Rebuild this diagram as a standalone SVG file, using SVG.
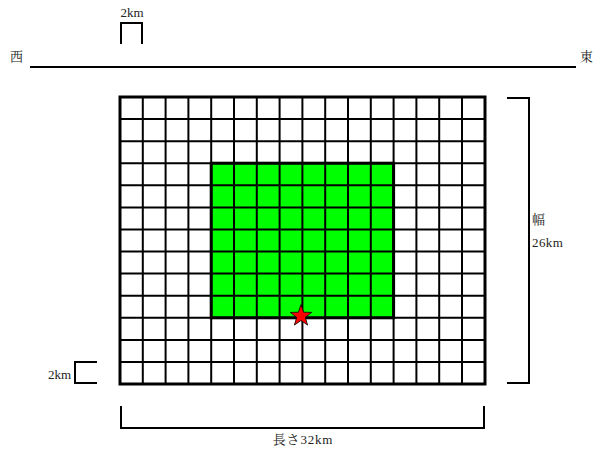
<svg xmlns="http://www.w3.org/2000/svg" width="596" height="455" viewBox="0 0 596 455">
<style>
text{font-family:"Liberation Serif","Noto Serif CJK JP","Noto Sans CJK JP",serif;font-size:13px;fill:#222}
.ln{stroke:#000;stroke-width:2;fill:none}
.gl{stroke:#000;stroke-width:2}
</style>
<rect width="596" height="455" fill="#fff"/>
<g id="compass">
<line class="ln" x1="30" y1="67" x2="576" y2="67"/>
<text x="10" y="61">西</text>
<text x="580" y="61">東</text>
</g>
<g id="scale-top">
<path class="ln" d="M121 44 V23 H142 V44"/>
<text x="132" y="17" text-anchor="middle">2km</text>
</g>
<g id="scale-left">
<path class="ln" d="M97 362 H75 V383 H97"/>
<text x="48" y="379">2km</text>
</g>
<g id="width-bracket">
<path class="ln" d="M507 98 H529 V383 H507"/>
<text x="532" y="224">幅</text>
<text x="532" y="247" letter-spacing="0.4">26km</text>
</g>
<g id="length-bracket">
<path class="ln" d="M121 406 V428 H484 V406"/>
<text x="303" y="444" text-anchor="middle" letter-spacing="0.8">長さ32km</text>
</g>
<g id="grid">
<rect x="211.2" y="163.2" width="182.4" height="154.6" fill="#00ff00"/>
<g class="gl">
<line x1="142.8" y1="97" x2="142.8" y2="384"/>
<line x1="165.6" y1="97" x2="165.6" y2="384"/>
<line x1="188.4" y1="97" x2="188.4" y2="384"/>
<line x1="211.2" y1="97" x2="211.2" y2="384"/>
<line x1="234" y1="97" x2="234" y2="384"/>
<line x1="256.8" y1="97" x2="256.8" y2="384"/>
<line x1="279.6" y1="97" x2="279.6" y2="384"/>
<line x1="302.4" y1="97" x2="302.4" y2="384"/>
<line x1="325.2" y1="97" x2="325.2" y2="384"/>
<line x1="348" y1="97" x2="348" y2="384"/>
<line x1="370.8" y1="97" x2="370.8" y2="384"/>
<line x1="393.6" y1="97" x2="393.6" y2="384"/>
<line x1="416.4" y1="97" x2="416.4" y2="384"/>
<line x1="439.2" y1="97" x2="439.2" y2="384"/>
<line x1="462" y1="97" x2="462" y2="384"/>
<line x1="120" y1="119.1" x2="485" y2="119.1"/>
<line x1="120" y1="141.2" x2="485" y2="141.2"/>
<line x1="120" y1="163.2" x2="485" y2="163.2"/>
<line x1="120" y1="185.3" x2="485" y2="185.3"/>
<line x1="120" y1="207.4" x2="485" y2="207.4"/>
<line x1="120" y1="229.5" x2="485" y2="229.5"/>
<line x1="120" y1="251.6" x2="485" y2="251.6"/>
<line x1="120" y1="273.6" x2="485" y2="273.6"/>
<line x1="120" y1="295.7" x2="485" y2="295.7"/>
<line x1="120" y1="317.8" x2="485" y2="317.8"/>
<line x1="120" y1="339.9" x2="485" y2="339.9"/>
<line x1="120" y1="362" x2="485" y2="362"/>
</g>
<rect x="211.2" y="163.2" width="182.4" height="154.6" fill="none" stroke="#000" stroke-width="3"/>
<rect x="120" y="97" width="365" height="287" fill="none" stroke="#000" stroke-width="3"/>
</g>
<g id="star">
<polygon points="301,304.5 303.6,312.2 311.7,312.4 305.3,317.3 307.6,325.1 301,320.5 294.4,325.1 296.7,317.3 290.3,312.4 298.4,312.2" fill="#ff0000" stroke="#000" stroke-width="0.8"/>
</g>
</svg>
